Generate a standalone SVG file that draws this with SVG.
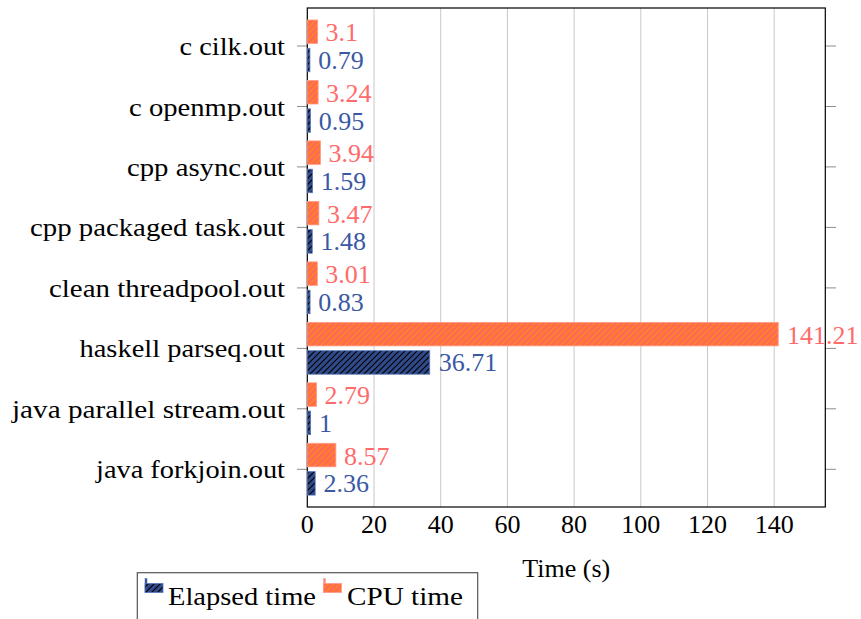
<svg xmlns="http://www.w3.org/2000/svg" width="861" height="619" viewBox="0 0 861 619">
<defs>
<pattern id="hb" patternUnits="userSpaceOnUse" width="6" height="6">
<rect width="6" height="6" fill="#2f4b8c"/>
<path d="M-1,7 L7,-1 M-1,1 L1,-1 M5,7 L7,5" stroke="#000" stroke-width="1.2"/>
</pattern>
<pattern id="ho" patternUnits="userSpaceOnUse" width="6" height="6">
<rect width="6" height="6" fill="#ff6a52"/>
<path d="M-1,7 L7,-1 M-1,1 L1,-1 M5,7 L7,5" stroke="#ff8c1a" stroke-width="1.2"/>
</pattern>
</defs>
<style>
text{font-family:'Liberation Serif','DejaVu Serif','Noto Serif',serif;font-size:26px;fill:#000}
.cat{text-anchor:end}
.tk{text-anchor:middle}
.grid{stroke:#c8c8c8;stroke-width:1}
.tick{stroke:#8c8c8c;stroke-width:1}
.eb{fill:url(#hb);stroke:#5a78bb;stroke-width:0.8}
.cb{fill:url(#ho);stroke:#ff9a8a;stroke-width:0.8}
.el{fill:#3a58a4}
.cl{fill:#ff6b6b}
</style>
<rect width="861" height="619" fill="#fff"/>
<g id="grid">
<line class="grid" x1="374" y1="8" x2="374" y2="507"/>
<line class="grid" x1="440.7" y1="8" x2="440.7" y2="507"/>
<line class="grid" x1="507.4" y1="8" x2="507.4" y2="507"/>
<line class="grid" x1="574.1" y1="8" x2="574.1" y2="507"/>
<line class="grid" x1="640.8" y1="8" x2="640.8" y2="507"/>
<line class="grid" x1="707.5" y1="8" x2="707.5" y2="507"/>
<line class="grid" x1="774.2" y1="8" x2="774.2" y2="507"/>
</g>
<g id="ticks">
<line class="tick" x1="297" y1="46" x2="307" y2="46"/><line class="tick" x1="825" y1="46" x2="836" y2="46"/>
<line class="tick" x1="297" y1="106.5" x2="307" y2="106.5"/><line class="tick" x1="825" y1="106.5" x2="836" y2="106.5"/>
<line class="tick" x1="297" y1="166.9" x2="307" y2="166.9"/><line class="tick" x1="825" y1="166.9" x2="836" y2="166.9"/>
<line class="tick" x1="297" y1="227.4" x2="307" y2="227.4"/><line class="tick" x1="825" y1="227.4" x2="836" y2="227.4"/>
<line class="tick" x1="297" y1="287.9" x2="307" y2="287.9"/><line class="tick" x1="825" y1="287.9" x2="836" y2="287.9"/>
<line class="tick" x1="297" y1="348.4" x2="307" y2="348.4"/><line class="tick" x1="825" y1="348.4" x2="836" y2="348.4"/>
<line class="tick" x1="297" y1="408.8" x2="307" y2="408.8"/><line class="tick" x1="825" y1="408.8" x2="836" y2="408.8"/>
<line class="tick" x1="297" y1="469.3" x2="307" y2="469.3"/><line class="tick" x1="825" y1="469.3" x2="836" y2="469.3"/>
</g>
<g id="axis">
<rect x="307.3" y="8" width="518" height="499" fill="none" stroke="#000" stroke-width="1.2"/>
</g>
<g id="ylabels">
<text class="cat" x="285" y="55" textLength="105.5" lengthAdjust="spacingAndGlyphs">c cilk.out</text>
<text class="cat" x="285" y="115.5" textLength="156" lengthAdjust="spacingAndGlyphs">c openmp.out</text>
<text class="cat" x="285" y="175.9" textLength="158" lengthAdjust="spacingAndGlyphs">cpp async.out</text>
<text class="cat" x="285" y="236.4" textLength="255" lengthAdjust="spacingAndGlyphs">cpp packaged task.out</text>
<text class="cat" x="285" y="296.9" textLength="236" lengthAdjust="spacingAndGlyphs">clean threadpool.out</text>
<text class="cat" x="285" y="357.4" textLength="205.5" lengthAdjust="spacingAndGlyphs">haskell parseq.out</text>
<text class="cat" x="285" y="417.8" textLength="273" lengthAdjust="spacingAndGlyphs">java parallel stream.out</text>
<text class="cat" x="285" y="478.3" textLength="189" lengthAdjust="spacingAndGlyphs">java forkjoin.out</text>
</g>
<g id="xlabels">
<text class="tk" x="307.3" y="533">0</text>
<text class="tk" x="374" y="533">20</text>
<text class="tk" x="440.7" y="533">40</text>
<text class="tk" x="507.4" y="533">60</text>
<text class="tk" x="574.1" y="533">80</text>
<text class="tk" x="640.8" y="533">100</text>
<text class="tk" x="707.5" y="533">120</text>
<text class="tk" x="774.2" y="533">140</text>
<text class="tk" x="566.3" y="577">Time (s)</text>
</g>
<g id="bars-cpu">
<rect class="cb" x="307.3" y="20" width="10.34" height="23.5"/>
<rect class="cb" x="307.3" y="80.5" width="10.81" height="23.5"/>
<rect class="cb" x="307.3" y="140.9" width="13.14" height="23.5"/>
<rect class="cb" x="307.3" y="201.4" width="11.57" height="23.5"/>
<rect class="cb" x="307.3" y="261.9" width="10.04" height="23.5"/>
<rect class="cb" x="307.3" y="322.4" width="470.94" height="23.5"/>
<rect class="cb" x="307.3" y="382.8" width="9.3" height="23.5"/>
<rect class="cb" x="307.3" y="443.3" width="28.58" height="23.5"/>
</g>
<g id="bars-elapsed">
<rect class="eb" x="307.3" y="48.3" width="2.63" height="23.5"/>
<rect class="eb" x="307.3" y="108.8" width="3.17" height="23.5"/>
<rect class="eb" x="307.3" y="169.2" width="5.3" height="23.5"/>
<rect class="eb" x="307.3" y="229.7" width="4.94" height="23.5"/>
<rect class="eb" x="307.3" y="290.2" width="2.77" height="23.5"/>
<rect class="eb" x="307.3" y="350.7" width="122.43" height="23.5"/>
<rect class="eb" x="307.3" y="411.1" width="3.34" height="23.5"/>
<rect class="eb" x="307.3" y="471.6" width="7.87" height="23.5"/>
</g>
<g id="values-cpu">
<text class="cl" x="325.6" y="41.3">3.1</text>
<text class="cl" x="326.1" y="101.8">3.24</text>
<text class="cl" x="328.4" y="162.2">3.94</text>
<text class="cl" x="326.9" y="222.7">3.47</text>
<text class="cl" x="325.3" y="283.2">3.01</text>
<text class="cl" x="787" y="343.7">141.21</text>
<text class="cl" x="324.6" y="404.1">2.79</text>
<text class="cl" x="344" y="464.6">8.57</text>
</g>
<g id="values-elapsed">
<text class="el" x="318.2" y="69">0.79</text>
<text class="el" x="318.7" y="129.5">0.95</text>
<text class="el" x="320.8" y="189.9">1.59</text>
<text class="el" x="320.4" y="250.4">1.48</text>
<text class="el" x="318.3" y="310.9">0.83</text>
<text class="el" x="438.7" y="371.4">36.71</text>
<text class="el" x="318.9" y="431.8">1</text>
<text class="el" x="323.4" y="492.3">2.36</text>
</g>
<g id="legend">
<rect x="137.3" y="572.7" width="340.4" height="60" fill="#fff" stroke="#555" stroke-width="1.2"/>
<rect x="145" y="578.5" width="2" height="14" fill="#2f4b8c" stroke="#5a78bb" stroke-width="0.5"/>
<rect x="145" y="583.5" width="18" height="9" class="eb"/>
<text x="168" y="605" textLength="148" lengthAdjust="spacingAndGlyphs">Elapsed time</text>
<rect x="323.5" y="578.5" width="2" height="14" fill="#ff8080" stroke="#ff9a8a" stroke-width="0.5"/>
<rect x="323.5" y="583.5" width="18" height="9" class="cb"/>
<text x="347" y="605" textLength="116" lengthAdjust="spacingAndGlyphs">CPU time</text>
</g>
</svg>
